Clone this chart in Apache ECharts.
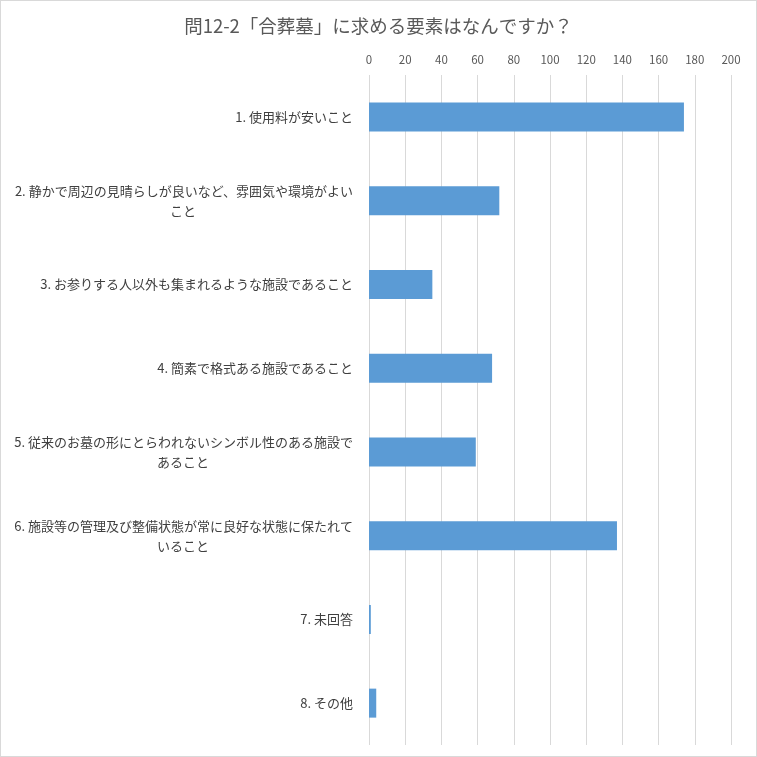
<!DOCTYPE html>
<html lang="ja">
<head>
    <meta charset="UTF-8">
    <title>問12-2</title>
    <style type="text/css">
        body, html{width:100%;height:100%;margin:0;background:#fff;}
        #main{width:757px;height:757px;box-sizing:border-box;border:1px solid #d9d9d9;}
    </style>
    <script src="https://cdn.jsdelivr.net/npm/echarts@6/dist/echarts.min.js"></script>
</head>
<body>
<div id="main"></div>
<script type="text/javascript">
    // 項目（2行目があるものは配列で）
    var categories = [
        ['1. 使用料が安いこと'],
        ['2. 静かで周辺の見晴らしが良いなど、雰囲気や環境がよい', 'こと'],
        ['3. お参りする人以外も集まれるような施設であること'],
        ['4. 簡素で格式ある施設であること'],
        ['5. 従来のお墓の形にとらわれないシンボル性のある施設で', 'あること'],
        ['6. 施設等の管理及び整備状態が常に良好な状態に保たれて', 'いること'],
        ['7. 未回答'],
        ['8. その他']
    ];
    var counts = [174, 72, 35, 68, 59, 137, 1, 4];
    var xTicks = {min: 0, max: 200, interval: 20};

    var labelFont = '"Noto Sans CJK JP", "Noto Sans", sans-serif';

    var chart = echarts.init(document.getElementById('main'), null, {renderer: 'canvas'});
    chart.setOption({
        animation: false,
        title: {
            text: '問12-2「合葬墓」に求める要素はなんですか？',
            left: 'center',
            top: 11,
            textStyle: {color: '#595959', fontSize: 18.5, fontWeight: 'normal', fontFamily: labelFont}
        },
        grid: {left: 368, right: 25, top: 74, bottom: 11},
        xAxis: {
            type: 'value',
            position: 'top',
            min: xTicks.min,
            max: xTicks.max,
            interval: xTicks.interval,
            axisLine: {show: false},
            axisTick: {show: false},
            axisLabel: {color: '#595959', fontSize: 11.5, margin: 10, fontFamily: labelFont},
            splitLine: {lineStyle: {color: '#d9d9d9', width: 1}}
        },
        yAxis: {
            type: 'category',
            inverse: true,
            data: categories.map(function(c){ return c.join('\n'); }),
            axisLine: {show: false},
            axisTick: {show: false},
            axisLabel: {
                margin: 16,
                formatter: function(v){
                    var lines = v.split('\n');
                    if (lines.length === 1) return '{a|' + lines[0] + '}';
                    return '{r|' + lines[0] + '}\n{w|' + lines[1] + '}';
                },
                rich: {
                    a: {color: '#404040', fontSize: 13, fontFamily: labelFont, lineHeight: 20},
                    r: {color: '#404040', fontSize: 13, fontFamily: labelFont, lineHeight: 20, width: 340, align: 'right'},
                    w: {color: '#404040', fontSize: 13, fontFamily: labelFont, lineHeight: 20, width: 340, align: 'center'}
                }
            }
        },
        series: [{
            type: 'bar',
            data: counts,
            barWidth: 29,
            itemStyle: {color: '#5b9bd5'}
        }]
    });
</script>
</body>
</html>
